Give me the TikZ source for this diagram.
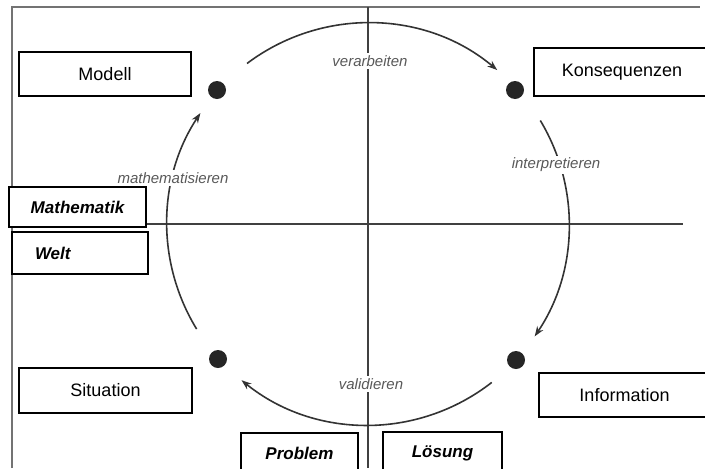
\documentclass[tikz,border=0pt]{standalone}
\usepackage{fontspec}
\setmainfont{Liberation Sans}
\usetikzlibrary{arrows.meta, calc}
\tikzset{
  % --- Kaesten ----------------------------------------------
  kasten/.style={draw, line width=0.8pt, fill=white, inner sep=0pt,
    align=center, font=\fontsize{9}{11}\selectfont},
  wkasten/.style={kasten, font=\fontsize{8.5}{10}\selectfont\bfseries\itshape},
  % --- Kreislauf --------------------------------------------
  punkt/.style={circle, fill=black!85, inner sep=0pt, minimum size=9pt},
  schritt/.style={fill=white, inner sep=1pt, text=black!65,
    font=\fontsize{7.5}{9}\selectfont\itshape},
  bogen/.style={line width=0.8pt, black!80},
  bogenp/.style={bogen, -{Stealth[length=5pt, width=3.6pt]}},
  % --- Achsen und Rahmen ------------------------------------
  achse/.style={line width=0.6pt, black!75},
  rahmen/.style={line width=0.6pt, black!55}
}

\begin{document}
\begin{tikzpicture}[x=0.5pt, y=0.5pt]
  \path[use as bounding box, clip] (0,0) rectangle (705,468);

  % ---------- Rahmen ----------
  \coordinate (ru) at (12,0);
  \coordinate (ro) at (12,461);
  \coordinate (rr) at (700,461);
  \draw[rahmen] (ru) -- (ro) -- (rr);

  % ---------- Achsen ----------
  \coordinate (c) at (368,244);
  \coordinate (ao) at (368,461);
  \coordinate (au) at (368,0);
  \coordinate (al) at (146,244);
  \coordinate (ar) at (683,244);
  \draw[achse] (ao) -- (au);
  \draw[achse] (al) -- (ar);

  % ---------- Boegen (im Uhrzeigersinn) ----------
  \coordinate (b1) at ($(c)+(127:201)$);
  \coordinate (b2) at ($(c)+(31:201)$);
  \coordinate (b3) at ($(c)+(-52:201)$);
  \coordinate (b4) at ($(c)+(211.5:201)$);
  \draw[bogenp] (b1) arc[start angle=127, end angle=50, radius=100.5pt];
  \draw[bogenp] (b2) arc[start angle=31, end angle=-34, radius=100.5pt];
  \draw[bogenp] (b3) arc[start angle=-52, end angle=-129, radius=100.5pt];
  \draw[bogenp] (b4) arc[start angle=211.5, end angle=146.5, radius=100.5pt];

  % ---------- Beschriftung der Schritte ----------
  \node[schritt] (verarbeiten) at (370,407) {verarbeiten};
  \node[schritt] (interpretieren) at (556,303) {interpretieren};
  \node[schritt] (validieren) at (371,84) {validieren};
  \node[schritt] (mathematisieren) at (173,290) {mathematisieren};

  % ---------- Punkte ----------
  \node[punkt] (pM) at (217,378) {};
  \node[punkt] (pK) at (515,378) {};
  \node[punkt] (pS) at (218,109) {};
  \node[punkt] (pI) at (516,108) {};

  % ---------- Kaesten ----------
  % rechte Kaesten laufen ueber den Bildrand hinaus
  \node[kasten, minimum width=86pt, minimum height=22pt] (modell)
    at (105,394) {Modell};
  \node[kasten, minimum width=88pt, minimum height=24pt] (konseq)
    at (622,396) {Konsequenzen};
  \node[kasten, minimum width=86.5pt, minimum height=22.5pt] (situation)
    at (105.5,77.5) {Situation};
  \node[kasten, minimum width=85.5pt, minimum height=22pt] (info)
    at (624.5,73) {Information};

  \node[wkasten, minimum width=68.5pt, minimum height=20pt] (mathe)
    at (77.5,261) {Mathematik};
  \node[wkasten, text width=45pt, align=left, inner xsep=11.5pt,
        minimum height=21pt] (welt)
    at (80,215) {Welt};
  \node[wkasten, minimum width=58.5pt, minimum height=20pt] (problem)
    at (299.5,15) {Problem};
  \node[wkasten, minimum width=59.5pt, minimum height=21pt] (loesung)
    at (442.5,15) {Lösung};

\end{tikzpicture}
\end{document}
